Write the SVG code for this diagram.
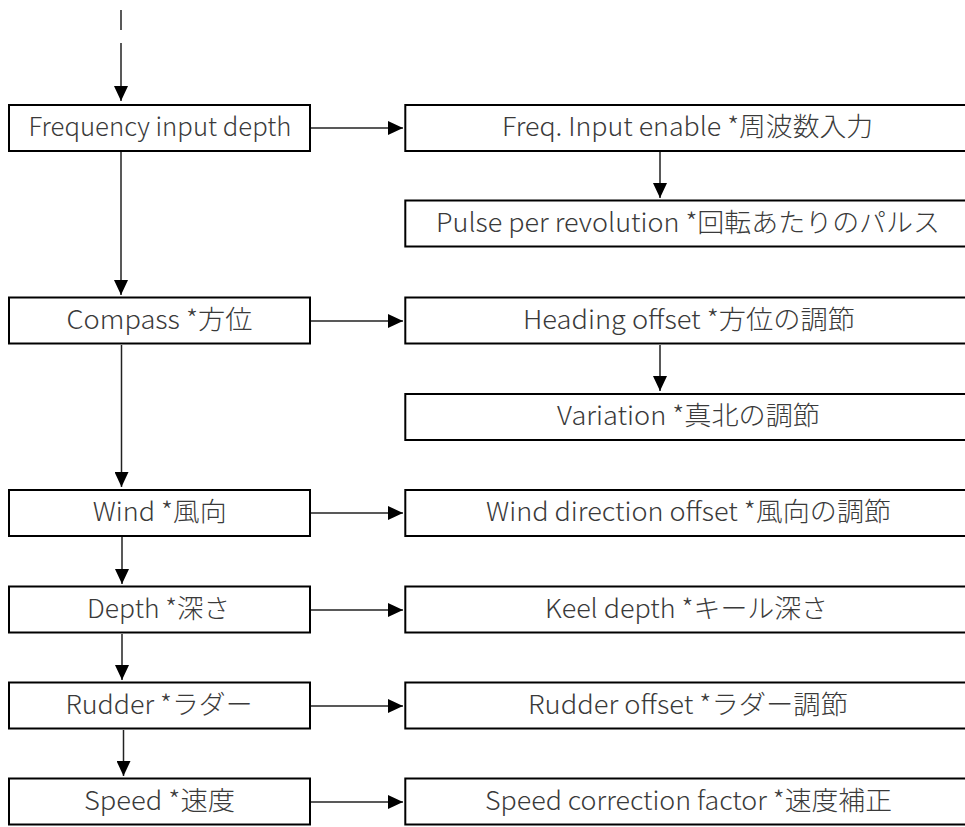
<svg xmlns="http://www.w3.org/2000/svg" width="965" height="827" viewBox="0 0 965 827">
<style>
.box{fill:#fff;stroke:#000;stroke-width:2}
.t{font-family:"Noto Sans CJK JP","Noto Sans",sans-serif;font-size:26px;font-weight:300;fill:#3a3a3a;text-anchor:middle}
.c{stroke:#222;stroke-width:1.5;fill:none}
</style>
<defs>
<marker id="ah" markerWidth="15" markerHeight="14" refX="15" refY="7" orient="auto" markerUnits="userSpaceOnUse">
<path d="M0,0 L15,7 L0,14 Z" fill="#000"/>
</marker>
</defs>
<g id="connectors">
<line class="c" x1="121" y1="10" x2="121" y2="30"/>
<line class="c" x1="121" y1="43" x2="121" y2="101" marker-end="url(#ah)"/>
<line class="c" x1="311" y1="128" x2="403" y2="128" marker-end="url(#ah)"/>
<line class="c" x1="660" y1="152" x2="660" y2="198" marker-end="url(#ah)"/>
<line class="c" x1="121" y1="152" x2="121" y2="295" marker-end="url(#ah)"/>
<line class="c" x1="311" y1="321" x2="403" y2="321" marker-end="url(#ah)"/>
<line class="c" x1="660" y1="345" x2="660" y2="391" marker-end="url(#ah)"/>
<line class="c" x1="121.5" y1="345" x2="121.5" y2="487" marker-end="url(#ah)"/>
<line class="c" x1="122" y1="537" x2="122" y2="584" marker-end="url(#ah)"/>
<line class="c" x1="311" y1="513" x2="403" y2="513" marker-end="url(#ah)"/>
<line class="c" x1="311" y1="610" x2="403" y2="610" marker-end="url(#ah)"/>
<line class="c" x1="122" y1="634" x2="122" y2="680" marker-end="url(#ah)"/>
<line class="c" x1="311" y1="706" x2="403" y2="706" marker-end="url(#ah)"/>
<line class="c" x1="123.5" y1="730" x2="123.5" y2="776" marker-end="url(#ah)"/>
<line class="c" x1="311" y1="802" x2="403" y2="802" marker-end="url(#ah)"/>
</g>
<g id="n1"><rect class="box" x="9" y="105" width="301" height="46"/><text class="t" x="160" y="136" textLength="263" lengthAdjust="spacingAndGlyphs">Frequency input depth</text></g>
<g id="n2"><rect class="box" x="405.3" y="105" width="575" height="46"/><text class="t" x="687.5" y="136" textLength="371" lengthAdjust="spacingAndGlyphs">Freq. Input enable *周波数入力</text></g>
<g id="n3"><rect class="box" x="405.3" y="200.5" width="575" height="46"/><text class="t" x="688" y="231.5" textLength="504" lengthAdjust="spacingAndGlyphs">Pulse per revolution *回転あたりのパルス</text></g>
<g id="n4"><rect class="box" x="9" y="297.5" width="301" height="46"/><text class="t" x="159.5" y="328.5" textLength="186" lengthAdjust="spacingAndGlyphs">Compass *方位</text></g>
<g id="n5"><rect class="box" x="405.3" y="297.5" width="575" height="46"/><text class="t" x="689" y="328.5" textLength="332" lengthAdjust="spacingAndGlyphs">Heading offset *方位の調節</text></g>
<g id="n6"><rect class="box" x="405.3" y="394" width="575" height="46"/><text class="t" x="688.5" y="425" textLength="263" lengthAdjust="spacingAndGlyphs">Variation *真北の調節</text></g>
<g id="n7"><rect class="box" x="9" y="490" width="301" height="46"/><text class="t" x="159.7" y="521" textLength="134" lengthAdjust="spacingAndGlyphs">Wind *風向</text></g>
<g id="n8"><rect class="box" x="405.3" y="490" width="575" height="46"/><text class="t" x="688.5" y="521" textLength="405" lengthAdjust="spacingAndGlyphs">Wind direction offset *風向の調節</text></g>
<g id="n9"><rect class="box" x="9" y="586.5" width="301" height="46"/><text class="t" x="158.5" y="617.5" textLength="143" lengthAdjust="spacingAndGlyphs">Depth *深さ</text></g>
<g id="n10"><rect class="box" x="405.3" y="586.5" width="575" height="46"/><text class="t" x="686.5" y="617.5" textLength="283" lengthAdjust="spacingAndGlyphs">Keel depth *キール深さ</text></g>
<g id="n11"><rect class="box" x="9" y="682.5" width="301" height="46"/><text class="t" x="159" y="713.5" textLength="187" lengthAdjust="spacingAndGlyphs">Rudder *ラダー</text></g>
<g id="n12"><rect class="box" x="405.3" y="682.5" width="575" height="46"/><text class="t" x="688" y="713.5" textLength="320" lengthAdjust="spacingAndGlyphs">Rudder offset *ラダー調節</text></g>
<g id="n13"><rect class="box" x="9" y="778.5" width="301" height="46"/><text class="t" x="159.5" y="809.5" textLength="151" lengthAdjust="spacingAndGlyphs">Speed *速度</text></g>
<g id="n14"><rect class="box" x="405.3" y="778.5" width="575" height="46"/><text class="t" x="688.5" y="809.5" textLength="407" lengthAdjust="spacingAndGlyphs">Speed correction factor *速度補正</text></g>
</svg>
